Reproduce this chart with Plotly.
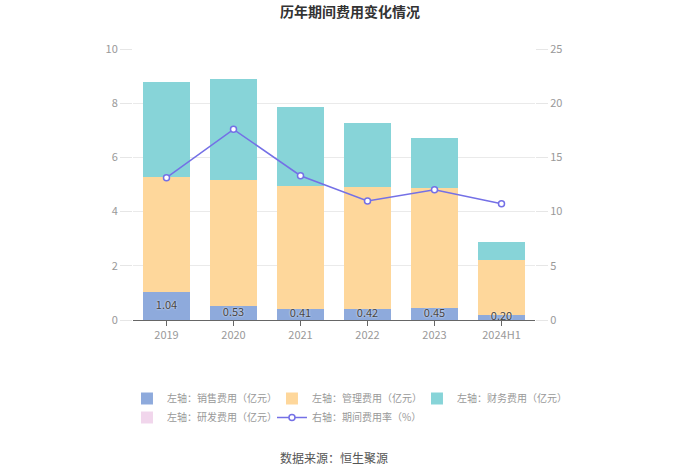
import plotly.graph_objects as go

categories = ["2019", "2020", "2021", "2022", "2023", "2024H1"]
sales = [1.04, 0.53, 0.41, 0.42, 0.45, 0.20]
admin = [4.24, 4.64, 4.53, 4.50, 4.41, 2.01]
finance = [3.50, 3.72, 2.92, 2.35, 1.86, 0.67]
rnd = [0, 0, 0, 0, 0, 0]
rate = [13.13, 17.59, 13.31, 10.98, 12.02, 10.73]

font_family = "Noto Sans CJK SC, Noto Sans, sans-serif"

fig = go.Figure()
fig.add_trace(go.Bar(
    x=categories, y=sales, name="左轴：销售费用（亿元）",
    marker=dict(color="#8eaadc", line=dict(width=0)),
))
fig.add_trace(go.Bar(
    x=categories, y=admin, name="左轴：管理费用（亿元）",
    marker=dict(color="#fed79b", line=dict(width=0)),
))
fig.add_trace(go.Bar(
    x=categories, y=finance, name="左轴：财务费用（亿元）",
    marker=dict(color="#87d4d8", line=dict(width=0)),
))
fig.add_trace(go.Bar(
    x=categories, y=rnd, name="左轴：研发费用（亿元）",
    marker=dict(color="#f1d6ec", line=dict(width=0)),
))
fig.add_trace(go.Scatter(
    x=categories, y=rate, name="右轴：期间费用率（%）", yaxis="y2",
    mode="lines+markers",
    line=dict(color="#7470e6", width=1.5),
    marker=dict(symbol="circle", size=6, color="white", line=dict(width=1.5, color="#7470e6")),
))
# value labels for the sales segment
fig.add_trace(go.Scatter(
    x=categories, y=[v / 2 for v in sales], mode="text",
    text=[f"{v:.2f}" for v in sales], showlegend=False, hoverinfo="skip",
    textfont=dict(size=11, color="#444", shadow="0px 0px 2px white"),
))

fig.update_layout(
    width=700, height=474,
    barmode="stack", bargap=0.3,
    plot_bgcolor="white", paper_bgcolor="white",
    font=dict(family=font_family, size=11, color="#999"),
    margin=dict(l=133, r=165, t=49, b=154, autoexpand=False),
    title=dict(text="<b>历年期间费用变化情况</b>", x=0.5, xanchor="center",
               yref="container", y=1 - 12 / 474, yanchor="middle",
               font=dict(size=14, color="#333")),
    xaxis=dict(showline=True, linecolor="#666", linewidth=1, ticks="outside", tickcolor="#666",
               ticklen=5, tickfont=dict(size=11, color="#999"), showgrid=False),
    yaxis=dict(range=[0, 10], dtick=2, showgrid=True, gridcolor="#eaeaea", zeroline=False,
               ticks="outside", tickcolor="#e6e6e6", ticklen=12, tickfont=dict(size=11, color="#999")),
    yaxis2=dict(range=[0, 25], dtick=5, overlaying="y", side="right", showgrid=False, zeroline=False,
                ticks="outside", tickcolor="#e6e6e6", ticklen=12, tickfont=dict(size=11, color="#999")),
    legend=dict(orientation="h", x=-0.015, xanchor="left",
                y=(320 - 384) / 271, yanchor="top",
                entrywidth=100, itemwidth=30, tracegroupgap=0,
                font=dict(size=10, color="#999"), traceorder="normal"),
    annotations=[dict(text="数据来源：恒生聚源", x=0.5, xref="paper", xanchor="center",
                      y=(320 - 457) / 271, yref="paper", yanchor="middle", showarrow=False,
                      font=dict(size=12, color="#555"))],
)
fig.write_html("out.html", config={"displayModeBar": False},
               post_script="document.body.style.margin='0px';")
